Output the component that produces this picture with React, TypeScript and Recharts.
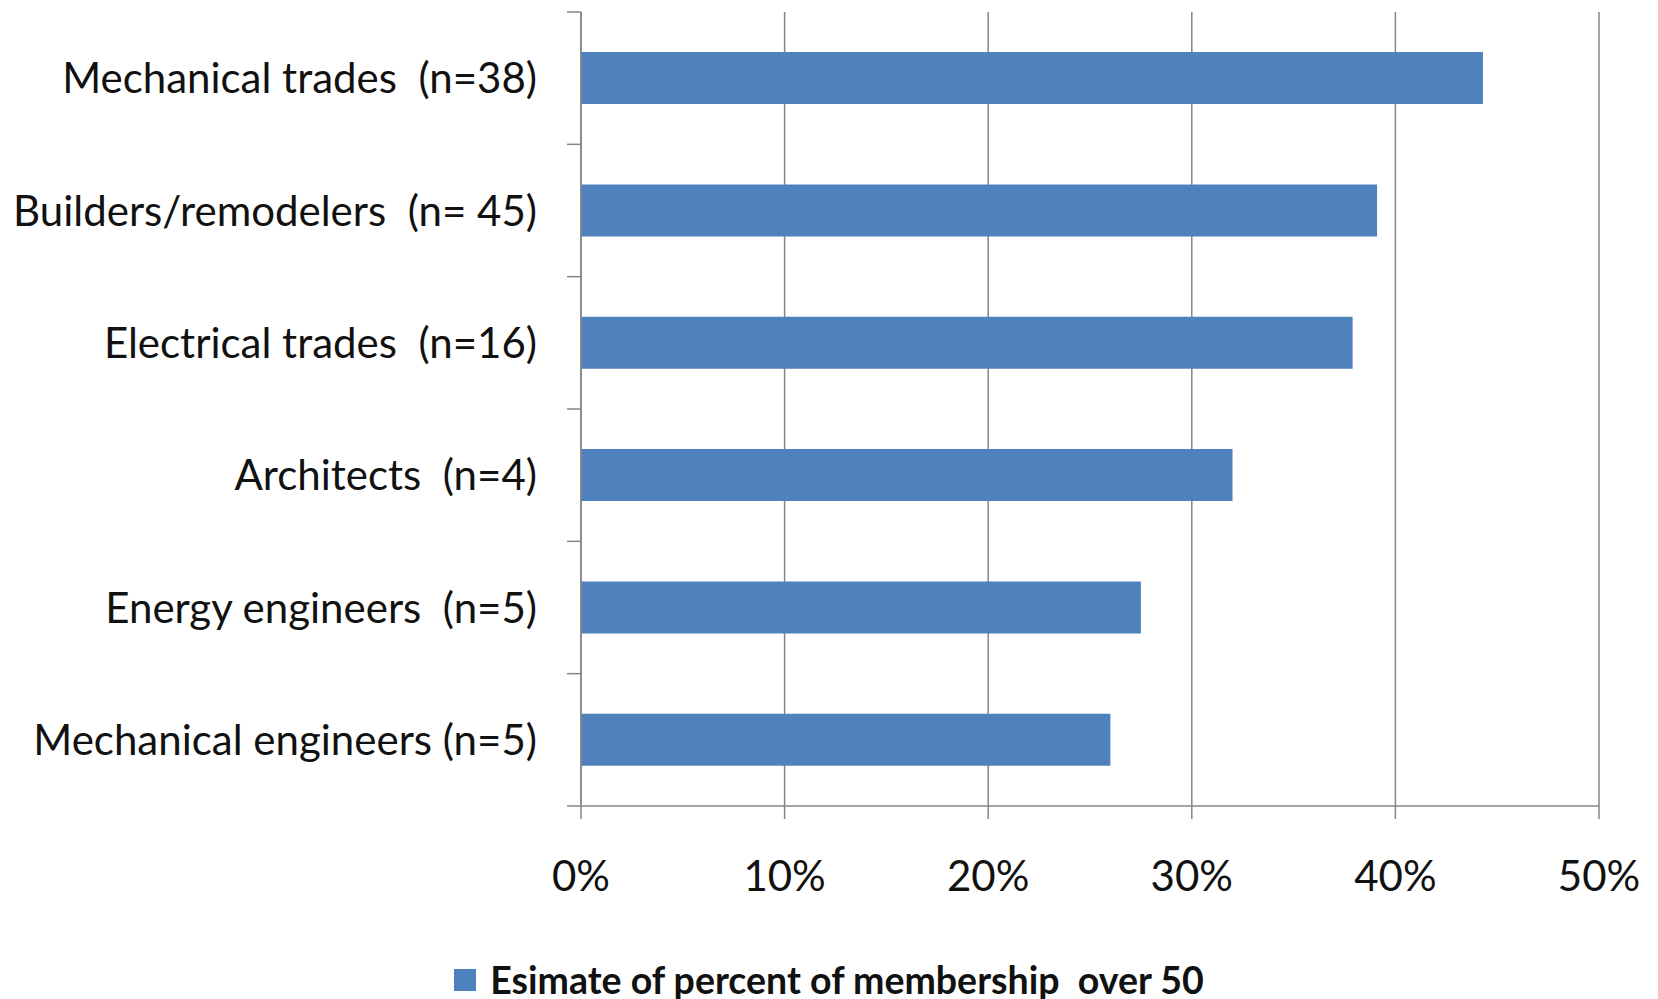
import React from 'react';
import { BarChart, Bar, XAxis, YAxis, CartesianGrid, Legend } from 'recharts';

// Survey groups (top to bottom) and the estimated share of members over 50, in percent
const categories = [
  'Mechanical trades  (n=38)',
  'Builders/remodelers  (n= 45)',
  'Electrical trades  (n=16)',
  'Architects  (n=4)',
  'Energy engineers  (n=5)',
  'Mechanical engineers (n=5)',
];
const membershipOver50 = [44.3, 39.1, 37.9, 32.0, 27.5, 26.0];
const percentTicks = [0, 10, 20, 30, 40, 50];
const seriesName = 'Esimate of percent of membership  over 50';

const data = categories.map((category, i) => ({ category, value: membershipOver50[i] }));

const FONT = 'Lato, Carlito, Calibri, "Noto Sans", sans-serif';
const AXIS_COLOR = '#868686';
const BAR_COLOR = '#4F81BD';
const LABEL_SIZE = 42;
const Y_TICK_SIZE = 14;
const Y_TICK_MARGIN = 30;

// Category label plus Excel-style tick marks on the band boundaries
const CategoryTick = (props: any) => {
  const { x, y, payload, index } = props;
  const half = payload && typeof payload.offset === 'number' ? payload.offset : 0;
  const axisX = x + Y_TICK_SIZE + Y_TICK_MARGIN;
  const isLast = index === categories.length - 1;
  return (
    <g>
      <line x1={axisX - Y_TICK_SIZE} x2={axisX} y1={y - half} y2={y - half} stroke={AXIS_COLOR} strokeWidth={1.5} />
      {isLast && (
        <line x1={axisX - Y_TICK_SIZE} x2={axisX} y1={y + half} y2={y + half} stroke={AXIS_COLOR} strokeWidth={1.5} />
      )}
      <text
        x={x}
        y={y}
        dy="0.36em"
        textAnchor="end"
        fill="#111"
        fontSize={LABEL_SIZE}
        fontFamily={FONT}
        style={{ whiteSpace: 'pre' }}
      >
        {payload.value}
      </text>
    </g>
  );
};

const LegendContent = () => (
  <div
    style={{
      display: 'flex',
      alignItems: 'center',
      justifyContent: 'center',
      height: 38,
      fontFamily: FONT,
    }}
  >
    <span style={{ display: 'inline-block', width: 22, height: 22, background: BAR_COLOR, marginRight: 14 }} />
    <span style={{ fontSize: 37.5, fontWeight: 700, color: '#111', whiteSpace: 'pre', lineHeight: '38px' }}>
      {seriesName}
    </span>
  </div>
);

export default function App() {
  return (
    <div style={{ position: 'absolute', left: 0, top: 0, background: '#fff' }}>
      <BarChart
        width={1658}
        height={999}
        data={data}
        layout="vertical"
        margin={{ top: 12, right: 59, bottom: 0, left: 0 }}
        barCategoryGap="30.3%"
      >
        <CartesianGrid horizontal={false} vertical stroke={AXIS_COLOR} strokeWidth={1.5} />
        <XAxis
          type="number"
          domain={[0, 50]}
          ticks={percentTicks}
          tickFormatter={(v: number) => `${v}%`}
          height={155}
          tickSize={13}
          tickMargin={42}
          axisLine={{ stroke: AXIS_COLOR, strokeWidth: 1.5 }}
          tickLine={{ stroke: AXIS_COLOR, strokeWidth: 1.5 }}
          tick={{ fontSize: LABEL_SIZE, fill: '#111', fontFamily: FONT }}
          interval={0}
        />
        <YAxis
          type="category"
          dataKey="category"
          width={581}
          interval={0}
          tickSize={Y_TICK_SIZE}
          tickMargin={Y_TICK_MARGIN}
          axisLine={{ stroke: AXIS_COLOR, strokeWidth: 1.5 }}
          tickLine={false}
          tick={<CategoryTick />}
        />
        <Legend
          verticalAlign="bottom"
          content={<LegendContent />}
          wrapperStyle={{ left: 0, width: 1658 }}
        />
        <Bar dataKey="value" name={seriesName} fill={BAR_COLOR} isAnimationActive={false} />
      </BarChart>
    </div>
  );
}
